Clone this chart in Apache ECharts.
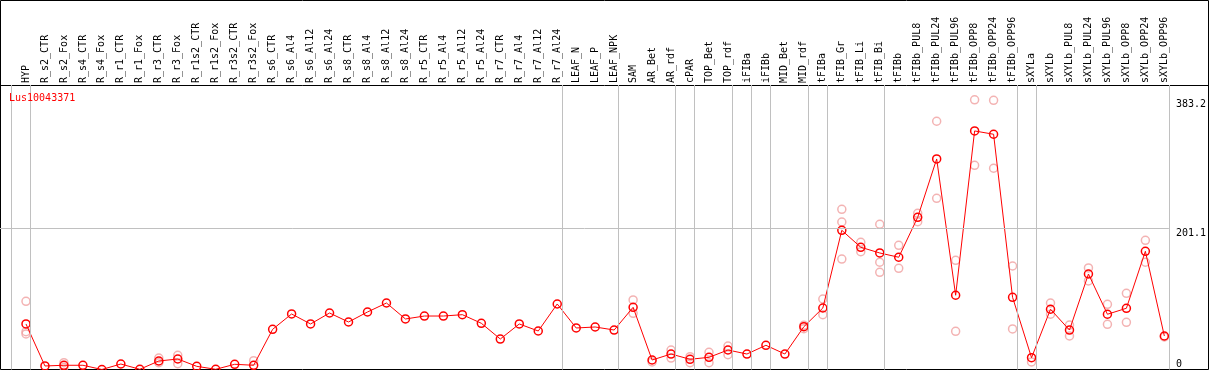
<!DOCTYPE html>
<html>
<head>
<meta charset="utf-8">
<script src="https://cdn.jsdelivr.net/npm/echarts@6/dist/echarts.min.js"></script>
<style>
  html, body { margin: 0; padding: 0; background: #fff; }
  #chart { width: 1209px; height: 370px; }
</style>
</head>
<body>
<div id="chart"></div>
<script>
var geneName = 'Lus10043371'

var categories = [
  'HYP', 'R_s2_CTR', 'R_s2_Fox', 'R_s4_CTR', 'R_s4_Fox', 'R_r1_CTR', 'R_r1_Fox',
  'R_r3_CTR', 'R_r3_Fox', 'R_r1s2_CTR', 'R_r1s2_Fox', 'R_r3s2_CTR', 'R_r3s2_Fox',
  'R_s6_CTR', 'R_s6_Al4', 'R_s6_Al12', 'R_s6_Al24', 'R_s8_CTR', 'R_s8_Al4', 'R_s8_Al12', 'R_s8_Al24',
  'R_r5_CTR', 'R_r5_Al4', 'R_r5_Al12', 'R_r5_Al24', 'R_r7_CTR', 'R_r7_Al4', 'R_r7_Al12', 'R_r7_Al24',
  'LEAF_N', 'LEAF_P', 'LEAF_NPK', 'SAM', 'AR_Bet', 'AR_rdf', 'cPAR', 'TOP_Bet', 'TOP_rdf',
  'iFIBa', 'iFIBb', 'MID_Bet', 'MID_rdf', 'tFIBa', 'tFIB_Gr', 'tFIB_Li', 'tFIB_Bi', 'tFIBb',
  'tFIBb_PUL8', 'tFIBb_PUL24', 'tFIBb_PUL96', 'tFIBb_OPP8', 'tFIBb_OPP24', 'tFIBb_OPP96',
  'sXYLa', 'sXYLb', 'sXYLb_PUL8', 'sXYLb_PUL24', 'sXYLb_PUL96', 'sXYLb_OPP8', 'sXYLb_OPP24', 'sXYLb_OPP96'
]

// mean expression per sample
var means = [
  64.7, 5.0, 6.0, 6.0, 0, 7.8, 0.3,
  12.1, 14.9, 4.5, 0.3, 7.4, 6.0,
  57.1, 78.9, 64.7, 80.3, 67.5, 81.7, 94.5, 71.8,
  76.0, 76.0, 77.9, 65.7, 43.3, 64.7, 54.7, 93.1,
  59.0, 60.4, 56.1, 88.4, 13.5, 22.0, 14.5, 17.3, 27.7,
  22.0, 34.4, 22.0, 60.8, 87.4, 197.8, 173.7, 165.6, 159.5,
  216.3, 299.2, 105.5, 339.0, 334.3, 102.6,
  16.8, 85.6, 56.1, 135.7, 78.5, 87.0, 168.0, 47.6
]

// replicate values (only the ones that show apart from the mean)
var replicates = [
  [96.9, 53.7, 50.5], [], [9.7, 3.1], [], [], [], [],
  [16.3, 9.7], [20.2, 8.2], [], [], [], [12.5],
  [], [], [], [], [], [], [], [],
  [], [], [], [], [], [], [], [],
  [], [], [], [98.8, 79.9], [10.7], [27.7, 16.3], [18.2, 9.7], [24.4, 9.7], [33.4, 21.0],
  [], [], [], [62.8, 58.0], [100.2, 77.9], [227.7, 209.6, 157.0], [180.8, 167.4], [206.4, 152.4, 138.1], [176.5, 143.8],
  [222.0, 210.1], [352.8, 243.3], [155.2, 54.3], [383.2, 290.2], [382.6, 286.0], [147.1, 57.6],
  [10.7], [94.5, 78.5], [63.2, 47.6], [144.3, 125.8], [92.7, 64.2], [108.3, 67.1], [183.6, 152.4], [46.2]
]

// sample index after which a group separator is drawn
var groupEnds = [-1, 0, 28, 31, 34, 35, 37, 38, 39, 41, 42, 45, 52, 53, 60]

var yTicks = [201.1, 383.2]
var yMax = 404.3

var mono = 'DejaVu Sans Mono'
var sepOffset = 0.24

var lineData = means.map(function (v, i) { return [i, v] })
var repData = []
replicates.forEach(function (list, i) {
  list.forEach(function (v) { repData.push([i, v]) })
})

var sepLines = groupEnds.map(function (g) { return { xAxis: g + sepOffset } })
sepLines.push({ yAxis: yTicks[0] })

var chart = echarts.init(document.getElementById('chart'))
var option = {
  animation: false,
  title: {
    text: geneName,
    left: 9,
    top: 93,
    padding: 0,
    textStyle: { color: '#ff0000', fontFamily: mono, fontSize: 10, fontWeight: 'normal' }
  },
  grid: { left: 0, right: 38, top: 85, bottom: 0.5 },
  xAxis: {
    type: 'value',
    position: 'top',
    min: -1.37,
    max: 60.24,
    axisLine: { show: false },
    axisTick: { show: false },
    splitLine: { show: false },
    axisLabel: {
      customValues: categories.map(function (c, i) { return i }),
      formatter: function (v) { return categories[v] },
      rotate: 90,
      margin: 2,
      color: '#000',
      fontFamily: mono,
      fontSize: 10
    }
  },
  yAxis: [
    {
      type: 'value',
      position: 'right',
      min: 0,
      max: yMax,
      axisLine: { show: false },
      axisTick: { show: false },
      splitLine: { show: false },
      axisLabel: {
        customValues: yTicks,
        formatter: function (v) { return String(v) },
        verticalAlign: 'top',
        margin: 7,
        color: '#000',
        fontFamily: mono,
        fontSize: 10
      }
    },
    {
      type: 'value',
      position: 'right',
      min: 0,
      max: yMax,
      axisLine: { show: false },
      axisTick: { show: false },
      splitLine: { show: false },
      axisLabel: {
        customValues: [0],
        verticalAlign: 'bottom',
        margin: 7,
        color: '#000',
        fontFamily: mono,
        fontSize: 10
      }
    }
  ],
  series: [
    {
      type: 'line',
      data: [],
      silent: true,
      markLine: {
        silent: true,
        symbol: ['none', 'none'],
        label: { show: false },
        lineStyle: { color: '#c0c0c0', type: 'solid', width: 1 },
        data: sepLines
      }
    },
    {
      type: 'scatter',
      data: repData,
      symbol: 'circle',
      symbolSize: 8,
      itemStyle: { color: 'rgba(0,0,0,0)', borderColor: '#f0a0a0', borderWidth: 1.5 },
      z: 3
    },
    {
      type: 'line',
      data: lineData,
      symbol: 'circle',
      symbolSize: 8,
      showAllSymbol: true,
      lineStyle: { color: '#ff0000', width: 1 },
      itemStyle: { color: 'rgba(0,0,0,0)', borderColor: '#ff0000', borderWidth: 1.5 },
      z: 4
    }
  ],
  graphic: [
    {
      type: 'rect',
      shape: { x: 0.5, y: 0.5, width: 1208, height: 369 },
      style: { fill: null, stroke: '#000', lineWidth: 1 },
      silent: true
    },
    {
      type: 'line',
      shape: { x1: 0, y1: 85.5, x2: 1209, y2: 85.5 },
      style: { stroke: '#000', lineWidth: 1 },
      silent: true
    }
  ]
}
chart.setOption(option)
</script>
</body>
</html>
